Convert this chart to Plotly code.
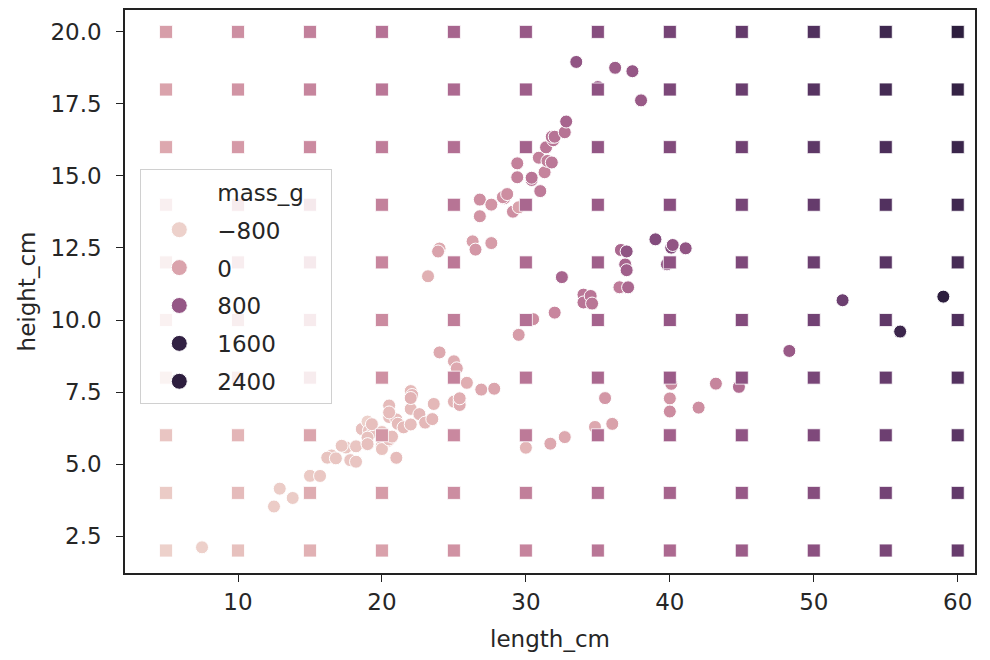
import numpy as np
import plotly.graph_objects as go

# ---------------- fish measurements ----------------
bream_length = [23.2, 24, 23.9, 26.3, 26.5, 26.8, 26.8, 27.6, 27.6, 28.5, 28.4, 28.7, 29.1, 29.5, 29.4,
                29.4, 30.4, 30.4, 30.9, 31, 31.3, 31.4, 31.5, 31.8, 31.9, 31.8, 32, 32.7, 32.8, 33.5,
                35, 35, 36.2, 37.4, 38]
bream_height = [11.52, 12.48, 12.3778, 12.73, 12.444, 13.6024, 14.1795, 12.67, 14.0049, 14.2266,
                14.2628, 14.3714, 13.7592, 13.9129, 14.9544, 15.438, 14.8604, 14.938, 15.633, 14.4738,
                15.1285, 15.9936, 15.5227, 15.4686, 16.2405, 16.36, 16.3618, 16.517, 16.8896, 18.957,
                18.0369, 18.084, 18.7542, 18.6354, 17.6235]
bream_mass = [242, 290, 340, 363, 430, 450, 500, 390, 450, 500, 475, 500, 500, 340, 600, 600, 700, 700,
              610, 650, 575, 685, 620, 680, 700, 725, 720, 714, 850, 1000, 920, 955, 925, 975, 950]

roach_length = [12.9, 16.5, 17.5, 18.2, 18.6, 19, 19.1, 19.4, 20.4, 20.5, 20.5, 21, 21.1, 22, 22, 22.1,
                23.6, 24, 25, 29.5]
roach_height = [4.1472, 5.2983, 5.5756, 5.6166, 6.216, 6.4752, 6.1677, 6.1146, 5.8045, 6.6339, 7.0334,
                6.55, 6.4, 7.5344, 6.9153, 7.3968, 7.0866, 8.8768, 8.568, 9.485]
roach_mass = [40, 69, 78, 87, 120, 0, 110, 120, 150, 145, 160, 140, 160, 169, 161, 200, 180, 290, 272, 390]

perch_length = [7.5, 12.5, 13.8, 15, 15.7, 16.2, 16.8, 17.2, 17.8, 18.2, 19, 19, 19, 19.3, 20, 20, 20, 20,
                20, 20.5, 20.5, 20.7, 21, 21.5, 22, 22, 22.6, 23, 23.5, 25, 25.2, 25.4, 25.4, 25.4, 25.9,
                26.9, 27.8, 30.5, 32, 32.5, 34, 34, 34.5, 34.6, 36.5, 36.5, 36.6, 36.9, 37, 37, 37.1, 39,
                39.8, 40.1, 40.2, 41.1]
perch_height = [2.112, 3.528, 3.824, 4.5924, 4.588, 5.2224, 5.1992, 5.6358, 5.1376, 5.082, 5.6925, 5.9175,
                5.6925, 6.384, 6.11, 5.64, 6.11, 5.875, 5.5225, 5.856, 6.792, 5.9532, 5.2185, 6.275,
                7.293, 6.375, 6.7334, 6.4395, 6.561, 7.168, 8.323, 7.1672, 7.0516, 7.2828, 7.8204,
                7.5852, 7.6156, 10.03, 10.2565, 11.4884, 10.881, 10.6091, 10.835, 10.5717, 11.1366,
                11.1366, 12.4313, 11.9286, 11.73, 12.3808, 11.135, 12.8002, 11.9328, 12.5125, 12.604,
                12.4888]
perch_mass = [5.9, 32, 40, 51.5, 70, 100, 78, 80, 85, 85, 110, 115, 125, 130, 120, 120, 130, 135, 110,
              130, 150, 145, 150, 170, 225, 145, 188, 180, 197, 218, 300, 260, 265, 250, 250, 300, 320,
              514, 556, 840, 685, 700, 700, 690, 900, 650, 820, 850, 900, 1015, 820, 1100, 1000, 1100,
              1000, 1000]

pike_length = [30, 31.7, 32.7, 34.8, 35.5, 36, 40, 40, 40.1, 42, 43.2, 44.8, 48.3, 52, 56, 56, 59]
pike_height = [5.568, 5.7078, 5.9364, 6.2884, 7.29, 6.396, 7.28, 6.825, 7.786, 6.96, 7.792, 7.68,
               8.9262, 10.6863, 9.6, 9.6, 10.812]
pike_mass = [200, 300, 300, 300, 430, 345, 456, 510, 540, 500, 567, 770, 950, 1250, 1600, 1550, 1650]

# ---------------- prediction grid ----------------
grid_length = [5, 10, 15, 20, 25, 30, 35, 40, 45, 50, 55, 60]
grid_height = [2, 4, 6, 8, 10, 12, 14, 16, 18, 20]
# predicted mass_g, one row per grid_height value, columns follow grid_length
grid_mass = [
    [-425, -280, -135, 10, 155, 300, 444, 589, 734, 879, 1024, 1169],
    [-372, -227, -82, 63, 207, 352, 497, 642, 787, 932, 1076, 1221],
    [-319, -174, -30, 115, 260, 405, 550, 695, 839, 984, 1129, 1274],
    [-267, -122, 23, 168, 313, 458, 602, 747, 892, 1037, 1182, 1327],
    [-214, -69, 76, 221, 365, 510, 655, 800, 945, 1090, 1234, 1379],
    [-161, -16, 128, 273, 418, 563, 708, 853, 997, 1142, 1287, 1432],
    [-109, 36, 181, 326, 471, 616, 760, 905, 1050, 1195, 1340, 1485],
    [-56, 89, 234, 379, 523, 668, 813, 958, 1103, 1248, 1392, 1537],
    [-3, 142, 286, 431, 576, 721, 866, 1011, 1155, 1300, 1445, 1590],
    [49, 194, 339, 484, 629, 774, 918, 1063, 1208, 1353, 1498, 1643],
]

legend_levels = [-800, 0, 800, 1600, 2400]
legend_labels = ["\u2212800", "0", "800", "1600", "2400"]

x_ticks = [10, 20, 30, 40, 50, 60]
y_ticks = [2.5, 5.0, 7.5, 10.0, 12.5, 15.0, 17.5, 20.0]

# ---------------- colour map (seaborn default cubehelix) ----------------
def cubehelix(x):
    a = 0.8 * x * (1 - x) / 2
    phi = 2 * np.pi * (0.4 * x)
    c, s = np.cos(phi), np.sin(phi)
    r = x + a * (-0.14861 * c + 1.78277 * s)
    g = x + a * (-0.29227 * c - 0.90649 * s)
    b = x + a * (1.97294 * c)
    return [int(round(255 * min(1, max(0, v)))) for v in (r, g, b)]


def col_at(t):
    r, g, b = cubehelix(0.85 - 0.7 * t)
    return f"rgb({r},{g},{b})"


colorscale = [[i / 255, col_at(i / 255)] for i in range(256)]

fish_length = bream_length + roach_length + perch_length + pike_length
fish_height = bream_height + roach_height + perch_height + pike_height
fish_mass = bream_mass + roach_mass + perch_mass + pike_mass

gx, gy, gm = [], [], []
for hi, h in enumerate(grid_height):
    for li, l in enumerate(grid_length):
        gx.append(l)
        gy.append(h)
        gm.append(grid_mass[hi][li])
gmin, gmax = min(gm), max(gm)

FONT = "DejaVu Sans"
FS = 23
TXT = "#262626"
fig = go.Figure()

fig.add_trace(go.Scatter(
    x=fish_length, y=fish_height, mode="markers", showlegend=False, hoverinfo="skip",
    marker=dict(size=13, color=fish_mass, colorscale=colorscale, cmin=min(fish_mass),
                cmax=max(fish_mass), line=dict(color="white", width=1)),
))
fig.add_trace(go.Scatter(
    x=gx, y=gy, mode="markers", showlegend=False, hoverinfo="skip",
    marker=dict(size=13, symbol="square", color=gm, colorscale=colorscale, cmin=gmin,
                cmax=gmax, line=dict(color="white", width=0.8)),
))

# legend entries
fig.add_trace(go.Scatter(x=[None], y=[None], mode="markers", name="mass_g\u00a0\u00a0\u00a0",
                         legendgroup="t", marker=dict(size=17, color="rgba(0,0,0,0)")))
for lv, lab in zip(legend_levels, legend_labels):
    t = min(1, max(0, (lv - gmin) / (gmax - gmin)))
    fig.add_trace(go.Scatter(x=[None], y=[None], mode="markers", name=lab, legendgroup=lab,
                             marker=dict(size=17, color=col_at(t), line=dict(color="white", width=1))))

axis_common = dict(showline=True, linecolor="#222", linewidth=1.6, mirror=True, ticks="outside",
                   ticklen=7, tickwidth=1.4, tickcolor="#222", showgrid=False, zeroline=False,
                   automargin=False, tickfont=dict(family=FONT, size=FS, color=TXT))

# page body adds an 8px offset; figure is sized/margined to compensate
fig.update_layout(
    width=982, height=644, paper_bgcolor="white", plot_bgcolor="white",
    margin=dict(l=117, r=15, t=2, b=79),
    xaxis=dict(range=[2.15, 61.2], tickvals=x_ticks, ticktext=[str(v) for v in x_ticks],
               ticklabelstandoff=1,
               title=dict(text="length_cm", font=dict(family=FONT, size=FS, color=TXT), standoff=21),
               **axis_common),
    yaxis=dict(range=[1.22, 20.76], tickvals=y_ticks, ticktext=[f"{v:.1f}" for v in y_ticks],
               ticklabelstandoff=10,
               title=dict(text="height_cm", font=dict(family=FONT, size=FS, color=TXT), standoff=8),
               **axis_common),
    legend=dict(x=0.018, y=0.717, xanchor="left", yanchor="top", bgcolor="rgba(255,255,255,0.8)",
                bordercolor="#d0d0d0", borderwidth=1, font=dict(family=FONT, size=FS, color=TXT),
                tracegroupgap=5, itemwidth=66),
)

fig.write_html("out.html")
